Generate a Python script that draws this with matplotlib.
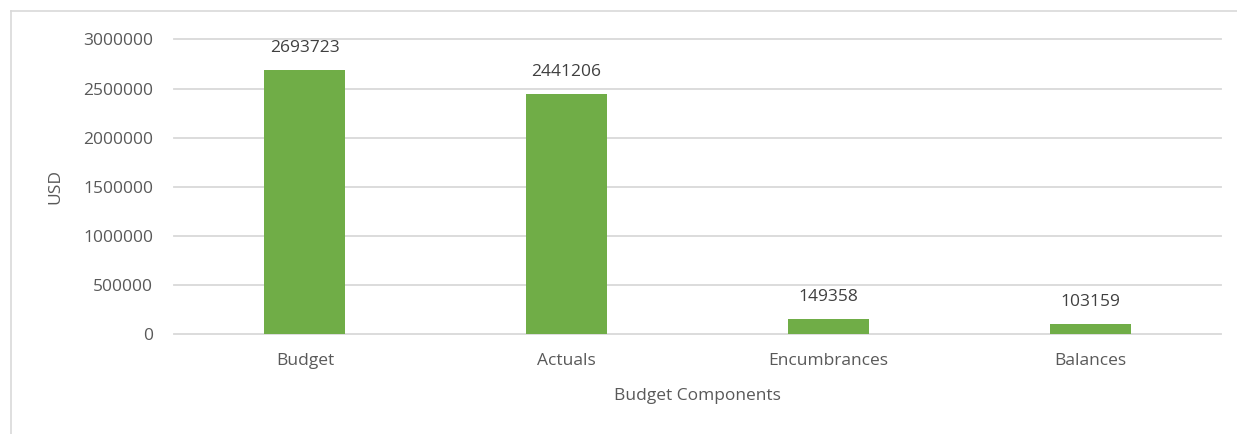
import matplotlib.pyplot as plt
from matplotlib.lines import Line2D

# Данные
categories = ['Budget', 'Actuals', 'Encumbrances', 'Balances']
values = [2693723, 2441206, 149358, 103159]
y_ticks = [0, 500000, 1000000, 1500000, 2000000, 2500000, 3000000]

plt.rcParams['font.family'] = ['Open Sans', 'DejaVu Sans']
text_color = '#595959'
grid_color = '#D9D9D9'
fs = 12.5

fig = plt.figure(figsize=(12.37, 4.34), dpi=100)
ax = fig.add_axes([174/1237, 1-334/434, (1221-174)/1237, (334-39.5)/434])

x = range(len(categories))
bars = ax.bar(x, values, width=0.31, color='#70AD47', zorder=3)
for b, v in zip(bars, values):
    ax.annotate(str(v), (b.get_x() + b.get_width()/2, v), xytext=(0, 10),
                textcoords='offset points', ha='center', va='bottom',
                fontsize=fs, color='#404040')

ax.set_xlim(-0.5, len(categories) - 0.5)
ax.set_ylim(0, 3000000)
ax.set_yticks(y_ticks)
ax.set_yticklabels([str(t) for t in y_ticks])
ax.set_xticks(list(x))
ax.set_xticklabels(categories)
ax.tick_params(length=0, labelsize=fs, labelcolor=text_color)
ax.tick_params(axis='y', pad=15)
ax.tick_params(axis='x', pad=14)
ax.grid(axis='y', color=grid_color, linewidth=1.3, zorder=0)
for gl in ax.get_ygridlines():
    gl.set_clip_on(False)
for s in ax.spines.values():
    s.set_visible(False)

ax.set_xlabel('Budget Components', fontsize=fs, color=text_color, labelpad=13)
ax.set_ylabel('USD', fontsize=fs, color=text_color, labelpad=14)

# рамка вокруг диаграммы (видна только сверху и слева)
bx, by = 11/1237, 1 - 10.5/434
fig.add_artist(Line2D([bx, 1.0], [by, by], transform=fig.transFigure,
                      color=grid_color, linewidth=1.2))
fig.add_artist(Line2D([bx, bx], [0, by], transform=fig.transFigure,
                      color=grid_color, linewidth=1.2))

fig.savefig('out.png', dpi=100)
